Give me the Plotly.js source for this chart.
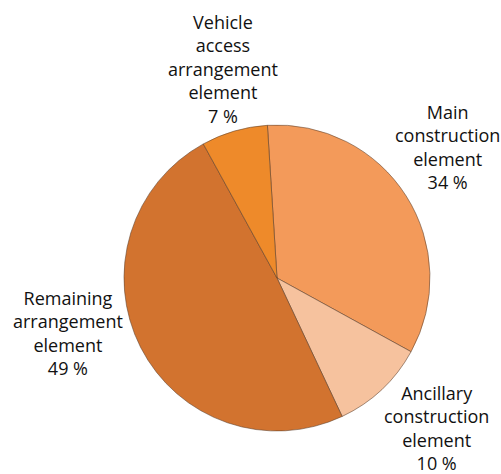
<!DOCTYPE html>
<html>
<head>
<meta charset="utf-8">
<script src="https://cdn.plot.ly/plotly-3.0.1.min.js"></script>
<style>html,body{margin:0;padding:0;background:#fff;}#chart{width:501px;height:474px;}</style>
</head>
<body>
<div id="chart"></div>
<script>
var categories = ["Main construction element", "Ancillary construction element", "Remaining arrangement element", "Vehicle access arrangement element"];
var labelLines = [["Main", "construction", "element"], ["Ancillary", "construction", "element"], ["Remaining", "arrangement", "element"], ["Vehicle", "access", "arrangement", "element"]];
var values = [34, 10, 49, 7];
var colors = ["#F39A5A", "#F6C29E", "#D2732F", "#EE8A2A"];

// label anchor positions in pixels (centres of each text block)
var labelPos = [[447, 147], [436, 428], [68, 333], [223, 69]];

var trace = {
  type: "pie",
  labels: categories,
  values: values,
  sort: false,
  direction: "clockwise",
  rotation: -3.6,
  marker: {colors: colors, line: {color: "rgba(90,60,40,0.55)", width: 1}},
  textinfo: "none",
  hoverinfo: "label+percent",
  showlegend: false
};

var W = 501, H = 474;
var annotations = categories.map(function (c, i) {
  var txt = labelLines[i].concat([values[i] + " %"]).join("<br>");
  return {
    xref: "paper", yref: "paper",
    x: 0, y: 0,
    text: txt,
    showarrow: false,
    align: "center",
    xanchor: "center", yanchor: "middle",
    font: {family: "Open Sans, sans-serif", size: 18, color: "#111"},
    _px: labelPos[i]
  };
});

var margin = {l: 124, r: 71, t: 125, b: 43};
var pw = W - margin.l - margin.r, ph = H - margin.t - margin.b;
annotations.forEach(function (a) {
  a.x = (a._px[0] - margin.l) / pw;
  a.y = 1 - (a._px[1] - margin.t) / ph;
  delete a._px;
});

var layout = {
  width: W, height: H,
  margin: margin,
  paper_bgcolor: "#fff",
  plot_bgcolor: "#fff",
  annotations: annotations
};

Plotly.newPlot("chart", [trace], layout, {displayModeBar: false, staticPlot: true});
</script>
</body>
</html>
